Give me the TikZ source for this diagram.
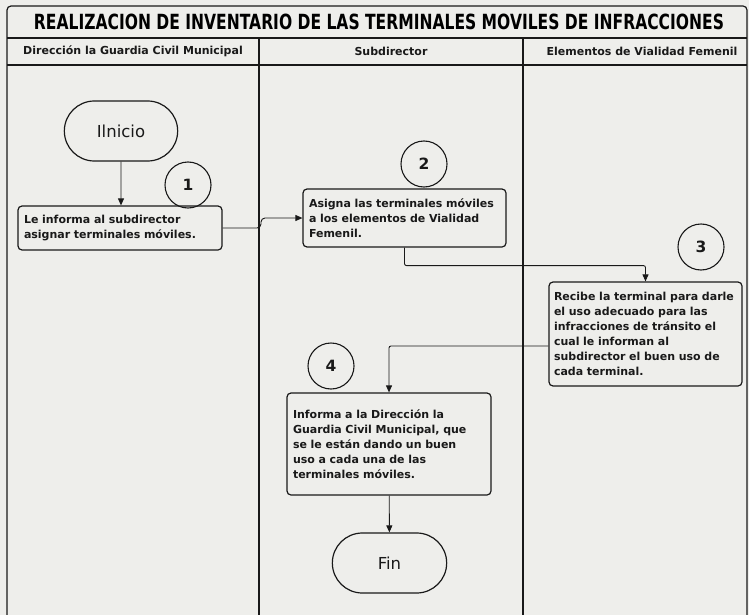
\documentclass[tikz,border=0pt]{standalone}
\usepackage{fontspec}
\setmainfont{DejaVu Sans}
\usepackage{tikz}
\usetikzlibrary{arrows.meta,calc,positioning,shapes.misc}
\definecolor{papel}{RGB}{238,238,235}
\definecolor{tinta}{RGB}{25,25,25}

\begin{document}
\begin{tikzpicture}[x=1pt,y=-1pt,
    caja/.style={draw=tinta,line width=1.2pt,rounded corners=4pt,align=left,inner sep=6pt,
      font=\fontsize{11}{15}\selectfont\bfseries,text=tinta},
    term/.style={draw=tinta,line width=1.2pt,rounded rectangle,minimum width=120pt,
      minimum height=60pt,font=\fontsize{16.5}{18}\selectfont,text=tinta},
    num/.style={draw=tinta,line width=1.1pt,circle,minimum size=46pt,inner sep=0pt,
      font=\fontsize{15.5}{18}\selectfont\bfseries,text=tinta},
    flecha/.style={draw=tinta,line width=0.9pt,-{Triangle[length=7pt,width=6pt]}},
    encab/.style={font=\fontsize{11}{14}\selectfont\bfseries,text=tinta},
    marco/.style={draw=tinta,line width=1.2pt}]
    \useasboundingbox (0,0) rectangle (749,615);
    \fill[papel] (0,0) rectangle (749,615);
    % carriles
    \draw[marco,rounded corners=4pt] (7,615) -- (7,6) -- (747,6) -- (747,615);
    \draw[marco] (7,38) -- (747,38);
    \draw[marco] (7,65) -- (747,65);
    \draw[marco] (259,38) -- (259,615);
    \draw[marco] (523,38) -- (523,615);
    \node (titulo) at (379,22) {\resizebox{690pt}{15.5pt}{\bfseries REALIZACION DE INVENTARIO DE LAS TERMINALES MOVILES DE INFRACCIONES}};
    \node[encab] (carril1) at (133,51) {Dirección la Guardia Civil Municipal};
    \node[encab] (carril2) at (391,51) {Subdirector};
    \node[encab] (carril3) at (642,51) {Elementos de Vialidad Femenil};
    % actividades
    \node[term] (inicio) at (121,131) {Ilnicio};
    \node[caja,minimum width=204pt,text width=192pt,minimum height=44pt] (b1) at (120,228)
      {Le informa al subdirector\\asignar terminales móviles.};
    \node[caja,minimum width=203pt,text width=191pt,minimum height=58pt] (b2) at (404.5,218)
      {Asigna las terminales móviles\\a los elementos de Vialidad\\Femenil.};
    \node[caja,minimum width=193pt,text width=183pt,inner sep=5pt,minimum height=104pt] (b3) at (645.5,334)
      {Recibe la terminal para darle\\el uso adecuado para las\\infracciones de tránsito el\\cual le informan al\\subdirector el buen uso de\\cada terminal.};
    \node[caja,minimum width=204pt,text width=192pt,minimum height=102pt] (b4) at (389,444)
      {Informa a la Dirección la\\Guardia Civil Municipal, que\\se le están dando un buen\\uso a cada una de las\\terminales móviles.};
    \node[term,minimum width=121pt] (fin) at (389.5,563) {Fin};
    \node[num] (n1) at (188,185) {1};
    \node[num] (n2) at (424,164) {2};
    \node[num] (n3) at (701,247) {3};
    \node[num] (n4) at (331,366) {4};
    % conectores
    \draw[flecha] (inicio) -- (inicio |- b1.north);
    \draw[flecha,rounded corners=4pt] (b1.east) -- (261,228) -- (261,218) -- (b2.west);
    \draw[flecha,rounded corners=2pt] (b2.south) -- ++(0,18) -| (b3.north);
    \draw[flecha,rounded corners=2pt] ([yshift=-12pt]b3.west) -| (b4.north);
    \draw[flecha] (b4) -- (fin);
\end{tikzpicture}
\end{document}
